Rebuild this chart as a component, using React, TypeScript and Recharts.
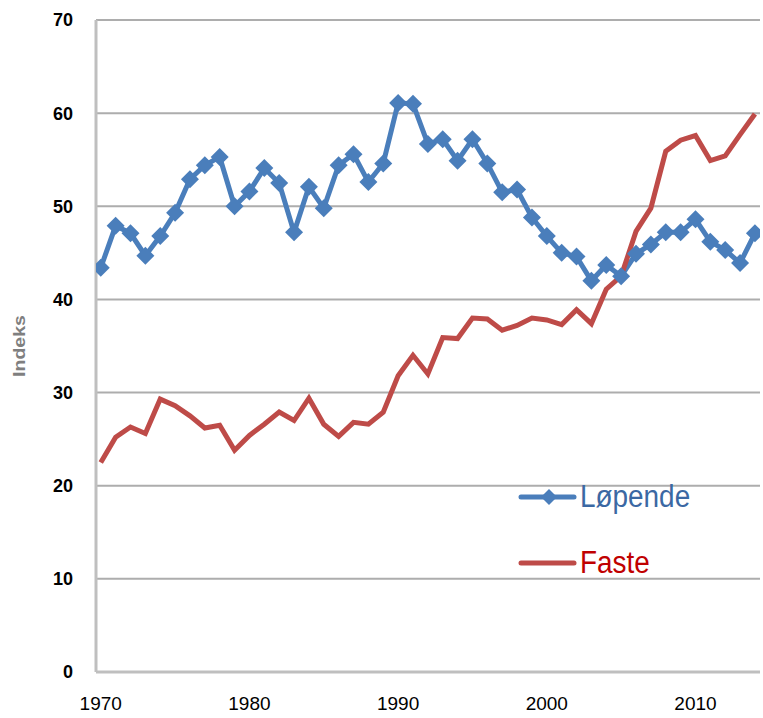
import { CartesianGrid, Legend, Line, LineChart, XAxis, YAxis } from "recharts";

const years = [
  1970, 1971, 1972, 1973, 1974, 1975, 1976, 1977, 1978, 1979,
  1980, 1981, 1982, 1983, 1984, 1985, 1986, 1987, 1988, 1989,
  1990, 1991, 1992, 1993, 1994, 1995, 1996, 1997, 1998, 1999,
  2000, 2001, 2002, 2003, 2004, 2005, 2006, 2007, 2008, 2009,
  2010, 2011, 2012, 2013, 2014,
];

const lopende = [
  43.4, 47.9, 47.1, 44.7, 46.8, 49.3, 52.9, 54.4, 55.3, 50.0,
  51.6, 54.1, 52.5, 47.2, 52.1, 49.8, 54.4, 55.6, 52.6, 54.6,
  61.1, 61.0, 56.7, 57.2, 54.9, 57.2, 54.6, 51.5, 51.8, 48.8,
  46.8, 45.0, 44.6, 42.0, 43.7, 42.5, 44.9, 45.9, 47.2, 47.2,
  48.6, 46.2, 45.3, 43.9, 47.1,
];

const faste = [
  22.5, 25.2, 26.3, 25.6, 29.3, 28.6, 27.5, 26.2, 26.5, 23.8,
  25.4, 26.6, 27.9, 27.0, 29.4, 26.6, 25.3, 26.8, 26.6, 27.9,
  31.8, 34.0, 32.0, 35.9, 35.8, 38.0, 37.9, 36.7, 37.2, 38.0,
  37.8, 37.3, 38.9, 37.4, 41.1, 42.5, 47.3, 49.8, 55.9, 57.1,
  57.6, 54.9, 55.4, 57.7, 59.9,
];

const seriesOrder = ["lopende", "faste"];
const xTicks = [1970, 1980, 1990, 2000, 2010];
const yTicks = [0, 10, 20, 30, 40, 50, 60, 70];

const data = years.map((year, i) => ({
  year,
  lopende: lopende[i],
  faste: faste[i],
}));

const BLUE = "#4A7EBB";
const RED = "#BE4B48";
const AXIS = "#BFBFBF";
const FONT = "'Liberation Sans', Arial, sans-serif";

function Diamond(props: any) {
  const { cx, cy, index } = props;
  if (cx == null || cy == null) return null;
  const r = 9;
  return (
    <path
      key={`d-${index}`}
      d={`M${cx},${cy - r}L${cx + r},${cy}L${cx},${cy + r}L${cx - r},${cy}Z`}
      fill={BLUE}
    />
  );
}

function LegendBox({ payload }: any) {
  const items = [...(payload ?? [])].sort(
    (a: any, b: any) => seriesOrder.indexOf(a.dataKey) - seriesOrder.indexOf(b.dataKey)
  );
  return (
    <div>
      {items.map((item: any, i: number) => {
        const isBlue = item.dataKey === "lopende";
        return (
          <div
            key={item.value}
            style={{
              display: "flex",
              alignItems: "center",
              height: 40,
              marginTop: i === 0 ? 0 : 26,
            }}
          >
            <svg width={62} height={40}>
              <line
                x1={3}
                x2={56}
                y1={20}
                y2={20}
                stroke={item.color}
                strokeWidth={5}
                strokeLinecap="round"
              />
              {isBlue && <path d="M31,12L39,20L31,28L23,20Z" fill={BLUE} />}
            </svg>
            <span
              style={{
                display: "inline-block",
                fontFamily: FONT,
                fontSize: 31,
                lineHeight: "40px",
                transform: "scaleX(0.9)",
                transformOrigin: "left center",
                color: isBlue ? "#3B68A3" : "#C00000",
              }}
            >
              {item.value}
            </span>
          </div>
        );
      })}
    </div>
  );
}

export default function App() {
  return (
    <div style={{ position: "absolute", left: 0, top: 0, background: "#fff" }}>
      <LineChart
        width={763}
        height={718}
        data={data}
        margin={{ top: 20, right: 3, bottom: 0, left: 0 }}
      >
        <CartesianGrid
          horizontal
          vertical={false}
          stroke="#ADADAD"
          strokeWidth={2}
        />
        <XAxis
          dataKey="year"
          type="number"
          domain={[1969.68, 2014.34]}
          ticks={xTicks}
          allowDataOverflow
          height={46}
          tickLine={false}
          tickMargin={19}
          axisLine={{ stroke: AXIS, strokeWidth: 3 }}
          tick={{ fill: "#000", fontSize: 19, fontFamily: FONT }}
        />
        <YAxis
          domain={[0, 70]}
          ticks={yTicks}
          width={96}
          tickLine={false}
          tickMargin={17}
          axisLine={{ stroke: AXIS, strokeWidth: 3 }}
          tick={{ fill: "#000", fontSize: 18, fontWeight: "bold", fontFamily: FONT }}
          label={{
            content: () => (
              <text
                x={19}
                y={346}
                transform="rotate(-90, 19, 346)"
                textAnchor="middle"
                dominantBaseline="central"
                fill="#7F7F7F"
                fontSize={17}
                fontWeight="bold"
                textLength={62}
                lengthAdjust="spacingAndGlyphs"
                fontFamily={FONT}
              >
                Indeks
              </text>
            ),
          }}
        />
        <Legend
          layout="horizontal"
          verticalAlign="middle"
          align="center"
          wrapperStyle={{ left: 518, top: 477, width: 230 }}
          content={<LegendBox />}
        />
        <Line
          dataKey="lopende"
          name="Løpende"
          stroke={BLUE}
          strokeWidth={5}
          dot={<Diamond />}
          activeDot={false}
          isAnimationActive={false}
        />
        <Line
          dataKey="faste"
          name="Faste"
          stroke={RED}
          strokeWidth={5}
          dot={false}
          activeDot={false}
          isAnimationActive={false}
        />
      </LineChart>
    </div>
  );
}
